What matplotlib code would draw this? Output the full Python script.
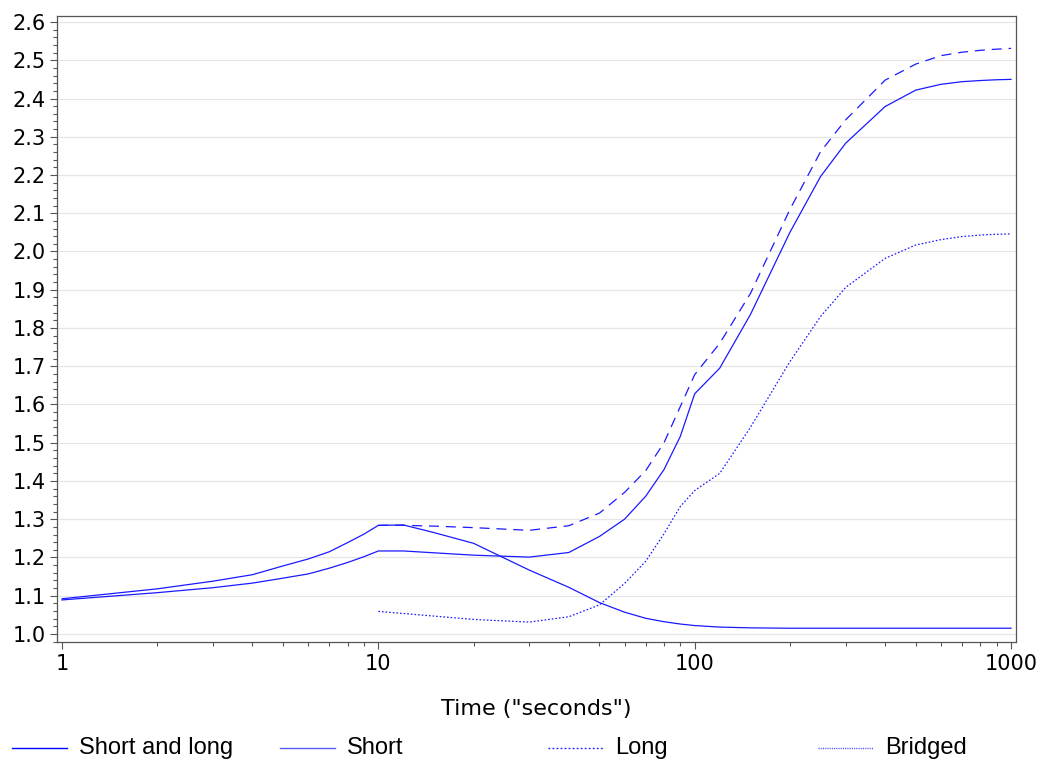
import numpy as np
import matplotlib
matplotlib.use("Agg")
import matplotlib.pyplot as plt
from matplotlib.lines import Line2D
from matplotlib.ticker import FixedLocator, MultipleLocator, NullFormatter

# values
peak_t = [1, 2, 3, 4, 5, 6, 7, 8, 9, 10, 12, 15, 20, 30, 40, 50, 60, 70, 80, 90,
          100, 120, 150, 200, 1000]
peak_y = [1.092, 1.118, 1.138, 1.155, 1.178, 1.196, 1.215, 1.239, 1.261, 1.284,
          1.285, 1.265, 1.237, 1.167, 1.122, 1.082, 1.057, 1.041, 1.032, 1.026,
          1.022, 1.018, 1.016, 1.015, 1.015]

rise_t = [1, 2, 3, 4, 5, 6, 7, 8, 9, 10, 12, 20, 30, 40, 50, 60, 70, 80, 90,
          100, 120, 150, 200, 250, 300, 400, 500, 600, 700, 800, 900, 1000]
rise_y = [1.089, 1.108, 1.121, 1.133, 1.146, 1.157, 1.172, 1.187, 1.202, 1.217,
          1.217, 1.206, 1.201, 1.213, 1.255, 1.300, 1.360, 1.430, 1.516,
          1.628, 1.695, 1.835, 2.050, 2.196, 2.283, 2.379, 2.422, 2.437, 2.444,
          2.447, 2.449, 2.450]

dash_t = [10, 12, 15, 20, 30, 40, 50, 60, 70, 80, 90, 100, 120, 150, 200, 250,
          300, 400, 500, 600, 700, 800, 900, 1000]
dash_y = [1.284, 1.284, 1.282, 1.278, 1.271, 1.283, 1.316, 1.370, 1.427, 1.500,
          1.594, 1.678, 1.760, 1.890, 2.110, 2.261, 2.344, 2.448, 2.490, 2.512,
          2.521, 2.526, 2.529, 2.531]

dot_t = [10, 20, 30, 40, 50, 60, 70, 80, 90, 100, 120, 150, 200, 250, 300, 400,
         500, 600, 700, 800, 900, 1000]
dot_y = [1.059, 1.038, 1.031, 1.045, 1.076, 1.132, 1.190, 1.262, 1.333, 1.375,
         1.420, 1.540, 1.712, 1.830, 1.906, 1.982, 2.017, 2.031, 2.039, 2.043,
         2.045, 2.046]

legend_labels = ["Short and long", "Short", "Long", "Bridged"]
x_ticks = [1, 10, 100, 1000]
x_ticklabels = ["1", "10", "100", "1000"]

blue = "#1a1aff"

fig = plt.figure(figsize=(10.4, 7.63), dpi=100)
ax = fig.add_axes([57 / 1040, 1 - 642 / 763, (1016 - 57) / 1040, (642 - 16) / 763])

ax.plot(peak_t, peak_y, color=blue, lw=0.9)
ax.plot(rise_t, rise_y, color=blue, lw=0.9)
ax.plot(dash_t, dash_y, color=blue, lw=0.9, linestyle=(0, (8, 5.5)))
ax.plot(dot_t, dot_y, color=blue, lw=0.9, linestyle=(0, (1.3, 1.6)))

ax.set_xscale("log")
ax.set_xlim(0.964, 1037)
ax.set_ylim(0.979, 2.6157)

ax.xaxis.set_major_locator(FixedLocator(x_ticks))
ax.set_xticklabels(x_ticklabels)
ax.xaxis.set_minor_locator(FixedLocator([d * 10 ** k for k in range(3) for d in range(2, 10)]))
ax.xaxis.set_minor_formatter(NullFormatter())
ax.yaxis.set_major_locator(MultipleLocator(0.1))
ax.yaxis.set_minor_locator(MultipleLocator(0.02))
ax.yaxis.set_major_formatter(plt.FuncFormatter(lambda v, p: f"{v:.1f}"))

ax.tick_params(which="major", length=5, width=0.8, color="#555555", labelsize=15)
ax.tick_params(which="minor", length=3, width=0.8, color="#555555")
ax.tick_params(axis="x", pad=4)
ax.tick_params(axis="y", pad=3)
ax.grid(axis="y", which="major", color="#e6e6e6", lw=0.9)
ax.set_axisbelow(True)
for s in ax.spines.values():
    s.set_color("#555555")
    s.set_linewidth(0.9)

ax.set_xlabel('Time ("seconds")', fontsize=16, labelpad=18)

# legend strip along the bottom
leg_x = [12, 280, 548, 818]
leg_styles = [dict(color="#0000ff", ls="-"), dict(color="#5a5aff", ls="-"),
              dict(color=blue, ls=(0, (1.3, 1.6))), dict(color="#4a4aff", ls=(0, (0.8, 0.8)))]
y_leg = 1 - 748 / 763
for x0, lab, st in zip(leg_x, legend_labels, leg_styles):
    fig.add_artist(Line2D([x0 / 1040, (x0 + 55) / 1040], [y_leg, y_leg],
                          transform=fig.transFigure, lw=1.0, **st))
    fig.text((x0 + 67) / 1040, y_leg, lab, fontsize=17, va="center", ha="left",
             family=["Liberation Sans", "DejaVu Sans"])

fig.savefig("out.png", dpi=100)
